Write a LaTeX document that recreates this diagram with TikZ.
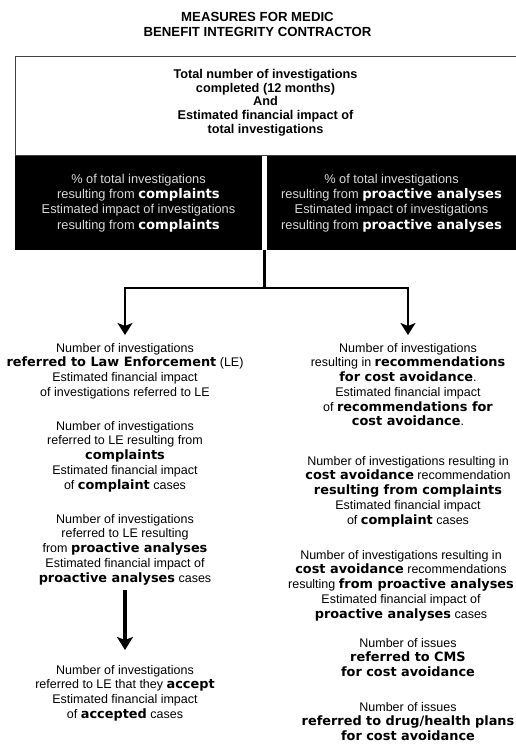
\documentclass[tikz,border=0pt]{standalone}
\usepackage{fontspec}
\setmainfont{Liberation Sans}
\newfontfamily\heavyfont{DejaVu Sans}[Scale=1.03]
\usetikzlibrary{arrows.meta}
\newcommand\HV[1]{{\heavyfont\bfseries #1}}
\newcommand\HW[1]{\textcolor{white}{\HV{#1}}}
\tikzset{
  titlestyle/.style={align=center, inner sep=0pt, font=\bfseries\fontsize{13.2}{15}\selectfont},
  topbox/.style={draw=black!75, line width=0.8pt, align=center, inner sep=0pt,
    minimum width=501pt, minimum height=99pt, font=\bfseries\fontsize{12.7}{13.6}\selectfont},
  blackbox/.style={fill=black, text=black!15, align=center, inner sep=0pt,
    minimum height=94pt, font=\fontsize{12.8}{15.3}\selectfont},
  coltext/.style={align=center, anchor=north, inner sep=0pt, font=\fontsize{12.5}{14.7}\selectfont},
  conn/.style={line width=2.4pt},
  arr/.style={line width=2.4pt, -{Stealth[width=15pt,length=12pt,inset=3pt]}},
  bigarr/.style={line width=3.4pt, -{Stealth[width=16pt,length=13pt,inset=3pt]}}
}
\begin{document}
\begin{tikzpicture}[x=1pt, y=-1pt]
\useasboundingbox (0,0) rectangle (515,747);

\node[titlestyle] (title) at (257.5,24.5) {MEASURES FOR MEDIC\\BENEFIT INTEGRITY CONTRACTOR};

\node[topbox] (total) at (265.5,106) {Total number of investigations\\completed (12 months)\\And\\Estimated financial impact of\\total investigations\\[-4pt]{}};

\node[blackbox, minimum width=247pt] (cmp) at (138.5,203)
  {\% of total investigations\\resulting from \HW{complaints}\\Estimated impact of investigations\\resulting from \HW{complaints}};
\node[blackbox, minimum width=249pt] (pro) at (391.5,203)
  {\% of total investigations\\resulting from \HW{proactive analyses}\\Estimated impact of investigations\\resulting from \HW{proactive analyses}};

% left column
\node[coltext] (l1) at (125,343) {Number of investigations\\\HV{referred to Law Enforcement} (LE)\\Estimated financial impact\\of investigations referred to LE};
\node[coltext] (l2) at (125,421) {Number of investigations\\referred to LE resulting from\\\HV{complaints}\\Estimated financial impact\\of \HV{complaint} cases};
\node[coltext] (l3) at (125,514) {Number of investigations\\referred to LE resulting\\from \HV{proactive analyses}\\Estimated financial impact of\\\HV{proactive analyses} cases};
\node[coltext] (l4) at (125,665) {Number of investigations\\referred to LE that they \HV{accept}\\Estimated financial impact\\of \HV{accepted} cases};

% right column
\node[coltext] (r1) at (408,343) {Number of investigations\\resulting in \HV{recommendations}\\\HV{for cost avoidance}.\\Estimated financial impact\\of \HV{recommendations for}\\\HV{cost avoidance}.};
\node[coltext] (r2) at (408,456) {Number of investigations resulting in\\\HV{cost avoidance} recommendation\\\HV{resulting from complaints}\\Estimated financial impact\\of \HV{complaint} cases};
\node[coltext] (r3) at (401,550) {Number of investigations resulting in\\\HV{cost avoidance} recommendations\\resulting \HV{from proactive analyses}\\Estimated financial impact of\\\HV{proactive analyses} cases};
\node[coltext] (r4) at (408,638) {Number of issues\\\HV{referred to CMS}\\\HV{for cost avoidance}};
\node[coltext] (r5) at (408,702) {Number of issues\\\HV{referred to drug/health plans}\\\HV{for cost avoidance}};

% connectors
\coordinate (split) at (264.5,250);
\coordinate (jn) at (264.5,288);
\draw[conn] (split) -- (jn);
\draw[arr] (jn) -| ([yshift=8pt]l1.north);
\draw[arr] (jn) -| ([yshift=8pt]r1.north);
\draw[bigarr] ([yshift=-5pt]l3.south) -- ([yshift=15pt]l4.north);
\end{tikzpicture}
\end{document}
